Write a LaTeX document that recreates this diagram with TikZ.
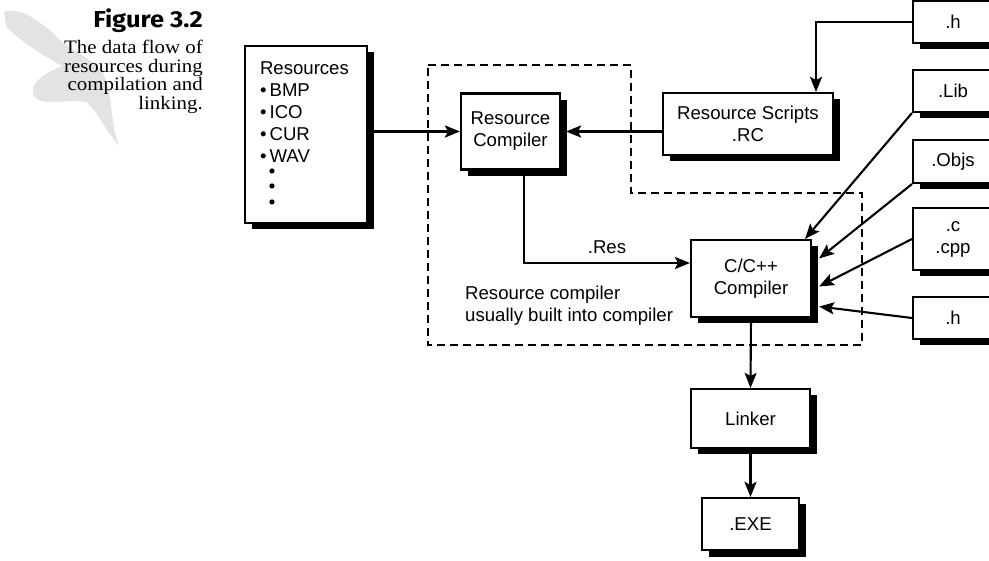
\documentclass[tikz,border=0pt]{standalone}
\usepackage{fontspec}
\setmainfont{Liberation Sans}
\newfontfamily\capserif[FakeStretch=1.1]{Liberation Serif}
\newfontfamily\capbold{Fira Sans}
\usetikzlibrary{arrows.meta,shadows,calc}

\begin{document}
\begin{tikzpicture}[x=1pt,y=-1pt,
  box/.style={draw,line width=2.1pt,fill=white,align=center,inner sep=0pt,
    font=\fontsize{18.6}{22}\selectfont,
    drop shadow={shadow xshift=6.5pt,shadow yshift=-6.5pt,fill=black,opacity=1}},
  arr/.style={line width=2.1pt,-{Stealth[length=15pt,width=12pt,inset=3pt]}},
  dashbox/.style={line width=2.1pt,dash pattern=on 8pt off 5pt},
  lbl/.style={font=\fontsize{18.6}{22}\selectfont,inner sep=0pt},
  listdot/.style={fill=black}]

\useasboundingbox (0,0) rectangle (989,561);

% faint quill behind the caption
\fill[gray!22] (4,12) .. controls (20,6) and (42,22) .. (60,40)
  .. controls (75,54) and (96,58) .. (106,80)
  .. controls (113,100) and (110,122) .. (119,146)
  .. controls (104,128) and (98,112) .. (86,102)
  .. controls (66,98) and (44,108) .. (34,96)
  .. controls (28,82) and (48,72) .. (62,66)
  .. controls (44,56) and (18,40) .. (6,26) -- cycle;

% caption
\node[anchor=north east,inner sep=0pt] (figno) at (203,9)
  {\capbold\bfseries\fontsize{22}{22}\selectfont\scalebox{1.16}[1.05]{Figure 3.2}};
\node[anchor=north east,inner sep=0pt] (cap) at (203,40)
  {\capserif\fontsize{19}{18.3}\selectfont
   \begin{tabular}{@{}r@{}}The data flow of\\resources during\\compilation and\\linking.\end{tabular}};

% region of the built-in resource compiler
\draw[dashbox] (428,65) -- (631,65) -- (631,193) -- (862,193) -- (862,345) -- (428,345) -- cycle;

% boxes
\node[box,minimum width=122pt,minimum height=177pt,inner xsep=15pt,text width=92pt,align=left] (res) at (306,134.5)
  {Resources\\
   \textbullet\,BMP\\
   \textbullet\,ICO\\
   \textbullet\,CUR\\
   \textbullet\,WAV\\[-7pt]
   \mbox{}\\[-7pt]
   \mbox{}\\[-7pt]
   \mbox{}};
% the three dots that continue the list
\fill[listdot] ([xshift=28pt,yshift=-126pt]res.north west) circle[radius=2.6pt];
\fill[listdot] ([xshift=28pt,yshift=-141pt]res.north west) circle[radius=2.6pt];
\fill[listdot] ([xshift=28pt,yshift=-157pt]res.north west) circle[radius=2.6pt];

\node[box,minimum width=99pt,minimum height=76pt] (rc) at (510.5,131.5) {Resource\\Compiler};
\node[box,minimum width=170pt,minimum height=62pt] (rs) at (748,124) {Resource Scripts\\.RC};
\node[box,minimum width=80pt,minimum height=42pt] (h1) at (953,22) {.h};
\node[box,minimum width=80pt,minimum height=42pt] (lib) at (953,91) {.Lib};
\node[box,minimum width=80pt,minimum height=43pt] (objs) at (953,161.5) {.Objs};
\node[box,minimum width=80pt,minimum height=62pt] (cpp) at (953,239) {.c\\.cpp};
\node[box,minimum width=80pt,minimum height=42pt] (h2) at (953,318) {.h};
\node[box,minimum width=120pt,minimum height=77pt] (cc) at (751,278.5) {C/C++\\Compiler};
\node[box,minimum width=119pt,minimum height=59pt] (lk) at (750.5,418.5) {Linker};
\node[box,minimum width=97pt,minimum height=52pt] (exe) at (750.5,524) {.EXE};

% note inside the dashed region
\node[lbl,anchor=north west,align=left] (note) at (465,286) {Resource compiler\\usually built into compiler};

% connectors
\draw[arr] (res.east |- rc.west) -- (rc.west);
\draw[arr] (rs.west |- rc.east) -- ([xshift=5pt]rc.east);
\draw[arr] (h1.west) -| ([xshift=68pt]rs.north);
\draw[arr] ([xshift=13.5pt]rc.south) |- ([yshift=15.5pt]cc.west)
  node[lbl,pos=0.75,above=8pt] {.Res};
\draw[arr] (lib.south west) -- ([xshift=-7pt]cc.north east);
\draw[arr] (objs.south west) -- ([xshift=7pt,yshift=20pt]cc.east);
\draw[arr] (cpp.west) -- ([xshift=7pt,yshift=-8pt]cc.east);
\draw[arr] (h2.west) -- ([xshift=7pt,yshift=-28pt]cc.east);
\draw[arr] (cc.south) -- (lk.north);
\draw[arr] (lk.south) -- (exe.north);
\end{tikzpicture}
\end{document}
